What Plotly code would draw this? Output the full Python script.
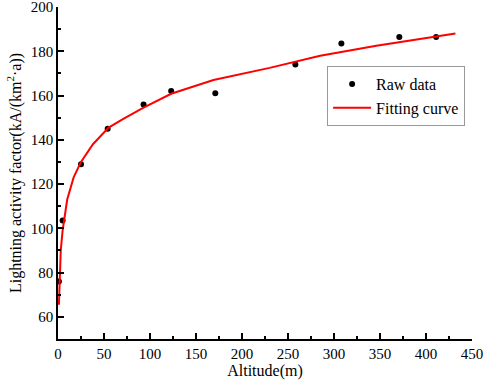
import plotly.graph_objects as go

# Raw data
raw_x = [1, 5, 25, 54, 93, 123, 171, 258, 308, 371, 411]
raw_y = [76, 103.5, 129, 145, 156, 162, 161, 174, 183.5, 186.5, 186.5]

# Fitting curve
fit_x = [1, 2, 3, 5, 10, 17, 25, 38, 55, 71, 93, 123, 169, 230, 260, 285, 346, 411, 432]
fit_y = [65.5, 82, 90, 99, 113, 123, 130, 138, 145.5, 149.5, 154.5, 160.8, 167, 172.5, 175.5, 178, 182.5, 186.5, 188]

x_title = "Altitude(m)"
y_title = "Lightning activity factor(kA/(km<sup>2</sup>·a))"

font_family = "Liberation Serif"

fig = go.Figure()
fig.add_trace(go.Scatter(
    x=raw_x, y=raw_y, mode="markers", name="Raw data",
    marker=dict(color="black", size=6),
))
fig.add_trace(go.Scatter(
    x=fit_x, y=fit_y, mode="lines", name="Fitting curve",
    line=dict(color="red", width=2),
))

axis_common = dict(
    showline=True, linecolor="black", linewidth=1.5, mirror=False,
    ticks="inside", ticklen=6, tickwidth=1.5, tickcolor="black",
    showgrid=False, zeroline=False, automargin=False,
    ticklabeloverflow="allow",
    tickfont=dict(family=font_family, size=15, color="black"),
)

fig.update_xaxes(
    range=[0, 450], dtick=50, tick0=0,
    minor=dict(ticks="inside", ticklen=3, tickwidth=1.5, tickcolor="black", dtick=25, tick0=0),
    title=dict(text=x_title, font=dict(family=font_family, size=16, color="black"), standoff=0),
    **axis_common,
)
fig.update_yaxes(
    range=[50, 200], dtick=20, tick0=60,
    minor=dict(ticks="inside", ticklen=3, tickwidth=1.5, tickcolor="black", dtick=10, tick0=50),
    title=dict(text=y_title, font=dict(family=font_family, size=16, color="black"), standoff=5),
    **axis_common,
)

fig.update_layout(
    width=484, height=383,
    margin=dict(l=58, r=12, t=7, b=44, autoexpand=False),
    paper_bgcolor="white", plot_bgcolor="white",
    font=dict(family=font_family, color="black"),
    legend=dict(
        x=0.65, y=0.822, xanchor="left", yanchor="top",
        bordercolor="#999999", borderwidth=1, bgcolor="white",
        font=dict(family=font_family, size=16, color="black"),
        itemwidth=38, tracegroupgap=0,
    ),
)

fig.write_html(
    "out.html",
    config={"displayModeBar": False},
    post_script="document.body.style.margin='0';",
)
